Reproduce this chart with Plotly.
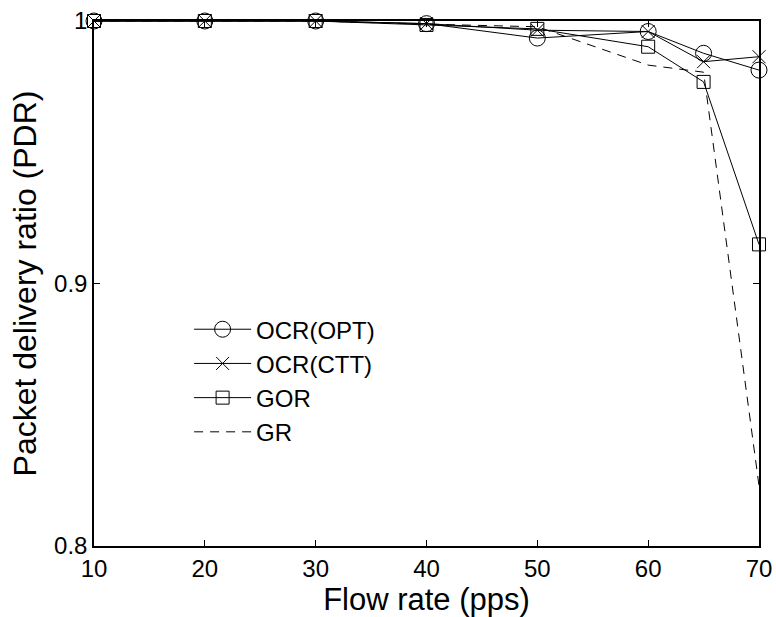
import plotly.graph_objects as go

flow_rate = [10, 20, 30, 40, 50, 60, 65, 70]
ocr_opt = [1.0, 1.0, 1.0, 0.999, 0.9935, 0.996, 0.9877, 0.9813]
ocr_ctt = [1.0, 1.0, 1.0, 0.999, 0.9965, 0.996, 0.9845, 0.9864]
gor = [1.0, 1.0, 1.0, 0.9985, 0.997, 0.9902, 0.9768, 0.9149]
gr = [1.0, 1.0, 1.0, 0.9988, 0.9978, 0.9832, 0.9805, 0.823]

x_ticks = [10, 20, 30, 40, 50, 60, 70]
y_ticks = [0.8, 0.9, 1.0]
y_tick_labels = ["0.8", "0.9", "1"]

font_family = "Liberation Sans, Arial, sans-serif"

fig = go.Figure()
series = [
    ("OCR(OPT)", ocr_opt, dict(symbol="circle-open", size=16), "solid", "lines+markers"),
    ("OCR(CTT)", ocr_ctt, dict(symbol="x-thin-open", size=13), "solid", "lines+markers"),
    ("GOR", gor, dict(symbol="square-open", size=13), "solid", "lines+markers"),
    ("GR", gr, dict(size=1), "9px,7px", "lines"),
]
for name, ys, mk, dash, mode in series:
    fig.add_trace(go.Scatter(
        x=flow_rate, y=ys, name=name, mode=mode,
        line=dict(color="black", width=1, dash=dash),
        marker=dict(color="black", line=dict(color="black", width=1), **mk),
        cliponaxis=False,
    ))

axis_common = dict(
    showline=True, linecolor="black", linewidth=1.5, mirror="ticks",
    ticks="inside", ticklen=6, tickcolor="black", tickwidth=1,
    showgrid=False, zeroline=False, automargin=False,
    tickfont=dict(family=font_family, size=24, color="black"),
)

fig.update_xaxes(
    range=[10, 70], tickvals=x_ticks, ticktext=[str(v) for v in x_ticks],
    title=dict(text="Flow rate (pps)", font=dict(family=font_family, size=31, color="black"), standoff=0),
    **axis_common,
)
fig.update_yaxes(
    range=[0.8, 1.0], tickvals=y_ticks, ticktext=y_tick_labels,
    title=dict(text="Packet delivery ratio (PDR)", font=dict(family=font_family, size=32, color="black"), standoff=8),
    **axis_common,
)

fig.update_layout(
    width=776, height=617,
    margin=dict(l=94, r=17, t=21, b=71),
    paper_bgcolor="white", plot_bgcolor="white",
    showlegend=True,
    legend=dict(
        x=0.143, y=0.455, xanchor="left", yanchor="top",
        bgcolor="rgba(0,0,0,0)", borderwidth=0,
        font=dict(family=font_family, size=24, color="black"),
        itemwidth=57, tracegroupgap=0,
    ),
)

fig.write_html("out.html")
